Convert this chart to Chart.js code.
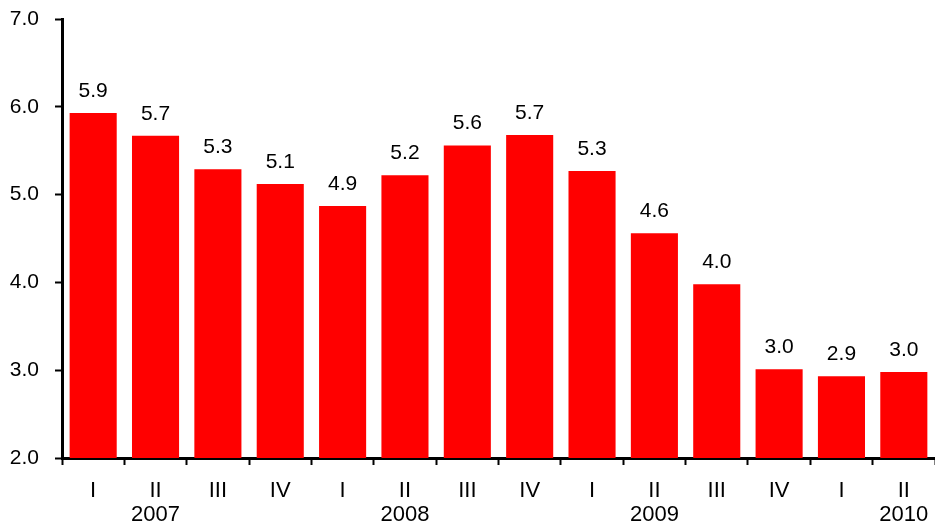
<!DOCTYPE html>
<html>
<head>
<meta charset="utf-8">
<script src="https://cdn.jsdelivr.net/npm/chart.js@4"></script>
<style>
  html, body { margin: 0; padding: 0; background: #ffffff; overflow: hidden; }
  #wrap { width: 935px; height: 527px; position: relative; }
</style>
</head>
<body>
<div id="wrap"><canvas id="bars"></canvas></div>
<script>
// quarters and the year shown under the second quarter
const quarters = ['I', 'II', 'III', 'IV', 'I', 'II', 'III', 'IV', 'I', 'II', 'III', 'IV', 'I', 'II'];
const years = ['', '2007', '', '', '', '2008', '', '', '', '2009', '', '', '', '2010'];
const values = [5.93, 5.67, 5.29, 5.12, 4.87, 5.22, 5.56, 5.68, 5.27, 4.56, 3.98, 3.01, 2.93, 2.98];
const yTicks = [2.0, 3.0, 4.0, 5.0, 6.0, 7.0];

const labels = quarters.map((q, i) => [q, years[i]]);
const FONT = '"Liberation Sans", Arial, sans-serif';

// draws the value above each bar
const barValues = {
    id: 'barValues',
    afterDatasetsDraw(chart) {
        const ctx = chart.ctx;
        const meta = chart.getDatasetMeta(0);
        ctx.save();
        ctx.font = '21px ' + FONT;
        ctx.fillStyle = '#000000';
        ctx.textAlign = 'center';
        ctx.textBaseline = 'alphabetic';
        meta.data.forEach((bar, i) => {
            ctx.fillText(values[i].toFixed(1), bar.x, bar.y - 16);
        });
        ctx.restore();
    }
};

const canvas = document.getElementById('bars');
canvas.width = 935;
canvas.height = 527;

new Chart(canvas.getContext('2d'), {
    type: 'bar',
    data: {
        labels: labels,
        datasets: [{
            data: values,
            backgroundColor: '#ff0000',
            borderWidth: 0,
            categoryPercentage: 1.0,
            barPercentage: 0.755
        }]
    },
    options: {
        responsive: false,
        animation: false,
        layout: { padding: { top: 19, right: 0, left: 0, bottom: 0 } },
        scales: {
            x: {
                grid: {
                    offset: true,
                    drawOnChartArea: false,
                    drawTicks: true,
                    tickLength: 7,
                    tickWidth: 2,
                    tickColor: '#000000'
                },
                border: { display: true, color: '#000000', width: 3 },
                ticks: {
                    color: '#000000',
                    maxRotation: 0,
                    autoSkip: false,
                    padding: 14,
                    font: { family: FONT, size: 22, lineHeight: 1.1 }
                },
                afterFit(axis) {
                    axis.height = 69;
                    axis.paddingLeft = 0;
                    axis.paddingRight = 0;
                }
            },
            y: {
                min: 2,
                max: 7,
                afterBuildTicks(axis) { axis.ticks = yTicks.map(v => ({ value: v })); },
                grid: {
                    drawOnChartArea: false,
                    drawTicks: true,
                    tickLength: 7,
                    tickWidth: 2,
                    tickColor: '#000000'
                },
                border: { display: true, color: '#000000', width: 3 },
                ticks: {
                    color: '#000000',
                    padding: 16,
                    callback: v => Number(v).toFixed(1),
                    font: { family: FONT, size: 21 }
                },
                afterFit(axis) {
                    axis.width = 62;
                    axis.paddingTop = 0;
                    axis.paddingBottom = 0;
                }
            }
        },
        plugins: {
            legend: { display: false },
            tooltip: { enabled: false }
        }
    },
    plugins: [barValues]
});
</script>
</body>
</html>
